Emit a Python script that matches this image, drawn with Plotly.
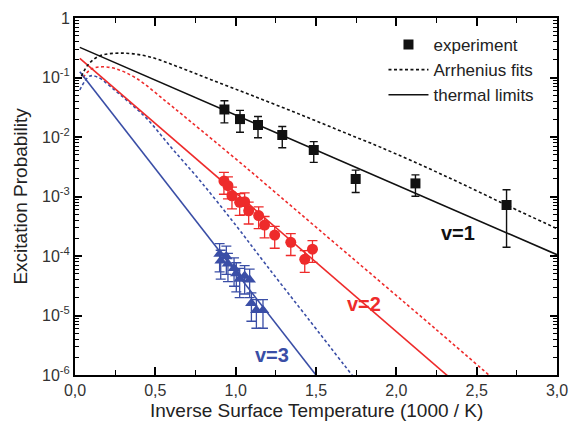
import plotly.graph_objects as go

# ---------------- data ----------------
# experiment v=1 (black squares)
v1_x = [0.93, 1.027, 1.139, 1.29, 1.486, 1.747, 2.119, 2.686]
v1_y = [0.029, 0.020, 0.0159, 0.0108, 0.00605, 0.00197, 0.00166, 0.00072]
v1_err = [0.0117, 0.008, 0.0062, 0.0042, 0.0023, 0.0008, 0.00065, 0.00058]

# experiment v=2 (red circles)
v2_x = [0.927, 0.952, 0.977, 1.025, 1.056, 1.081, 1.143, 1.18, 1.243, 1.343, 1.43, 1.478]
v2_y = [0.00182, 0.00152, 0.00103, 0.0008, 0.00082, 0.000575, 0.000479, 0.000331,
        0.000225, 0.00017, 8.8e-5, 0.00013]
v2_err = [0.00073, 0.00061, 0.00041, 0.00032, 0.00033, 0.00023, 0.00019, 0.00013,
          0.00009, 0.000068, 0.000035, 0.000052]

# experiment v=3 (blue triangles)
v3_x = [0.90, 0.907, 0.942, 0.952, 0.99, 1.004, 1.025, 1.056, 1.087, 1.098, 1.129, 1.17]
v3_y = [1.08e-4, 8.3e-5, 9.8e-5, 7.4e-5, 6.2e-5, 5.1e-5, 4.1e-5, 4.6e-5, 4.0e-5,
        1.6e-5, 1.23e-5, 1.23e-5]
v3_err = [5.4e-5, 4.2e-5, 4.9e-5, 3.7e-5, 3.1e-5, 2.6e-5, 2.1e-5, 2.3e-5, 2.0e-5,
          0.8e-5, 0.62e-5, 0.62e-5]

# Arrhenius fits (dashed)
arr1_x = [0.04, 0.08, 0.15, 0.29, 0.46, 0.65, 0.85, 1.10, 1.40, 1.70, 1.90, 2.30, 2.69, 3.0]
arr1_y = [0.105, 0.162, 0.229, 0.257, 0.224, 0.148, 0.0912, 0.0501, 0.0240, 0.0112,
          0.00676, 0.00224, 0.000708, 0.000288]
arr2_x = [0.05, 0.10, 0.16, 0.25, 0.38, 0.57, 0.71, 1.05, 1.52, 2.25, 2.62]
arr2_y = [0.1, 0.138, 0.151, 0.141, 0.0977, 0.0389, 0.0191, 0.00331, 0.000275, 5.75e-6, 7.9e-7]
arr3_x = [0.03, 0.09, 0.14, 0.25, 0.35, 0.45, 0.60, 0.78, 1.00, 1.19, 1.45, 1.75]
arr3_y = [0.0617, 0.105, 0.102, 0.0603, 0.0355, 0.02, 0.00661, 0.00182, 0.000331,
          7.08e-5, 8.91e-6, 8.1e-7]

# thermal limits (solid)
th1_x = [0.03, 3.0]
th1_y = [0.321, 1.05e-4]
th2_x = [0.03, 2.35]
th2_y = [0.21, 8.2e-7]
th3_x = [0.03, 1.52]
th3_y = [0.125, 8.5e-7]

x_ticks = [0.0, 0.5, 1.0, 1.5, 2.0, 2.5, 3.0]
x_ticktext = ["0,0", "0,5", "1,0", "1,5", "2,0", "2,5", "3,0"]
y_ticks = [1, 1e-1, 1e-2, 1e-3, 1e-4, 1e-5, 1e-6]
y_ticktext = ["1", "10<sup>-1</sup>", "10<sup>-2</sup>", "10<sup>-3</sup>",
              "10<sup>-4</sup>", "10<sup>-5</sup>", "10<sup>-6</sup>"]

BLACK = "#111111"
RED = "#ee2b2b"
BLUE = "#3a4ea6"
FONT = "Liberation Sans, Arial, sans-serif"

fig = go.Figure()

dash = "3px,2.5px"
# dashed fits
fig.add_trace(go.Scatter(x=arr3_x, y=arr3_y, mode="lines", line=dict(color=BLUE, width=1.6, dash=dash),
                         showlegend=False, line_shape="spline"))
fig.add_trace(go.Scatter(x=arr2_x, y=arr2_y, mode="lines", line=dict(color=RED, width=1.6, dash=dash),
                         showlegend=False, line_shape="spline"))
# solid
fig.add_trace(go.Scatter(x=th3_x, y=th3_y, mode="lines", line=dict(color=BLUE, width=1.6),
                         showlegend=False))
fig.add_trace(go.Scatter(x=th2_x, y=th2_y, mode="lines", line=dict(color=RED, width=1.6),
                         showlegend=False))

# data v3, v2
fig.add_trace(go.Scatter(x=v3_x, y=v3_y, mode="markers",
                         marker=dict(symbol="triangle-up", size=11, color=BLUE),
                         error_y=dict(type="data", array=v3_err, color=BLUE, thickness=1.3, width=5),
                         showlegend=False))
fig.add_trace(go.Scatter(x=v2_x, y=v2_y, mode="markers",
                         marker=dict(symbol="circle", size=11, color=RED),
                         error_y=dict(type="data", array=v2_err, color=RED, thickness=1.3, width=5),
                         showlegend=False))

# v1 traces (used for legend)
fig.add_trace(go.Scatter(x=v1_x, y=v1_y, mode="markers", name="experiment",
                         marker=dict(symbol="square", size=10, color=BLACK),
                         error_y=dict(type="data", array=v1_err, color=BLACK, thickness=1.4, width=4)))
fig.add_trace(go.Scatter(x=arr1_x, y=arr1_y, mode="lines", name="Arrhenius fits",
                         line=dict(color=BLACK, width=1.6, dash=dash), line_shape="spline"))
fig.add_trace(go.Scatter(x=th1_x, y=th1_y, mode="lines", name="thermal limits",
                         line=dict(color=BLACK, width=1.6)))

# labels
fig.add_annotation(x=2.382, y=-3.605, text="<b>v=1</b>", showarrow=False,
                   font=dict(size=20, color=BLACK, family=FONT))
fig.add_annotation(x=1.80, y=-4.80, text="<b>v=2</b>", showarrow=False,
                   font=dict(size=20, color=RED, family=FONT))
fig.add_annotation(x=1.224, y=-5.66, text="<b>v=3</b>", showarrow=False,
                   font=dict(size=20, color=BLUE, family=FONT))

# axis titles
fig.add_annotation(xref="paper", yref="paper", x=-0.114, y=0.5, text="Excitation Probability",
                   textangle=-90, showarrow=False, xanchor="center", yanchor="middle",
                   font=dict(size=19, color="#222222", family=FONT))
fig.add_annotation(xref="paper", yref="paper", x=0.5, y=-0.099,
                   text="Inverse Surface Temperature (1000 / K)",
                   showarrow=False, xanchor="center", yanchor="middle",
                   font=dict(size=19, color="#222222", family=FONT))

axis_common = dict(showline=True, linecolor="black", linewidth=2, mirror="allticks",
                   ticks="inside", tickcolor="black", showgrid=False, zeroline=False,
                   automargin=False,
                   tickfont=dict(size=16, color="#333333", family=FONT))

minor_y = []
for d in range(-6, 0):
    for m in range(2, 10):
        minor_y.append(m * 10 ** d)

fig.update_xaxes(range=[0, 3], tickvals=x_ticks, ticktext=x_ticktext, ticklen=8, tickwidth=1.5,
                 minor=dict(ticks="inside", tickvals=[0.25, 0.75, 1.25, 1.75, 2.25, 2.75],
                            ticklen=5, tickwidth=1.2, tickcolor="black", showgrid=False),
                 **axis_common)
fig.update_yaxes(type="log", range=[-6, 0], tickvals=y_ticks, ticktext=y_ticktext, ticklen=7,
                 tickwidth=1.5,
                 minor=dict(ticks="inside", tickvals=minor_y, ticklen=4, tickwidth=1,
                            tickcolor="black", showgrid=False),
                 **axis_common)

fig.update_layout(width=570, height=429, margin=dict(l=75, r=13, t=18, b=54, autoexpand=False),
                  plot_bgcolor="white", paper_bgcolor="white",
                  font=dict(family=FONT, color="#222222"),
                  legend=dict(x=0.64, y=0.975, xanchor="left", yanchor="top",
                              bgcolor="rgba(0,0,0,0)", borderwidth=0,
                              font=dict(size=17, color="#222222", family=FONT),
                              tracegroupgap=0, itemwidth=40))

fig.write_html("out.html", config={"displayModeBar": False},
               post_script="document.body.style.margin='0';")
